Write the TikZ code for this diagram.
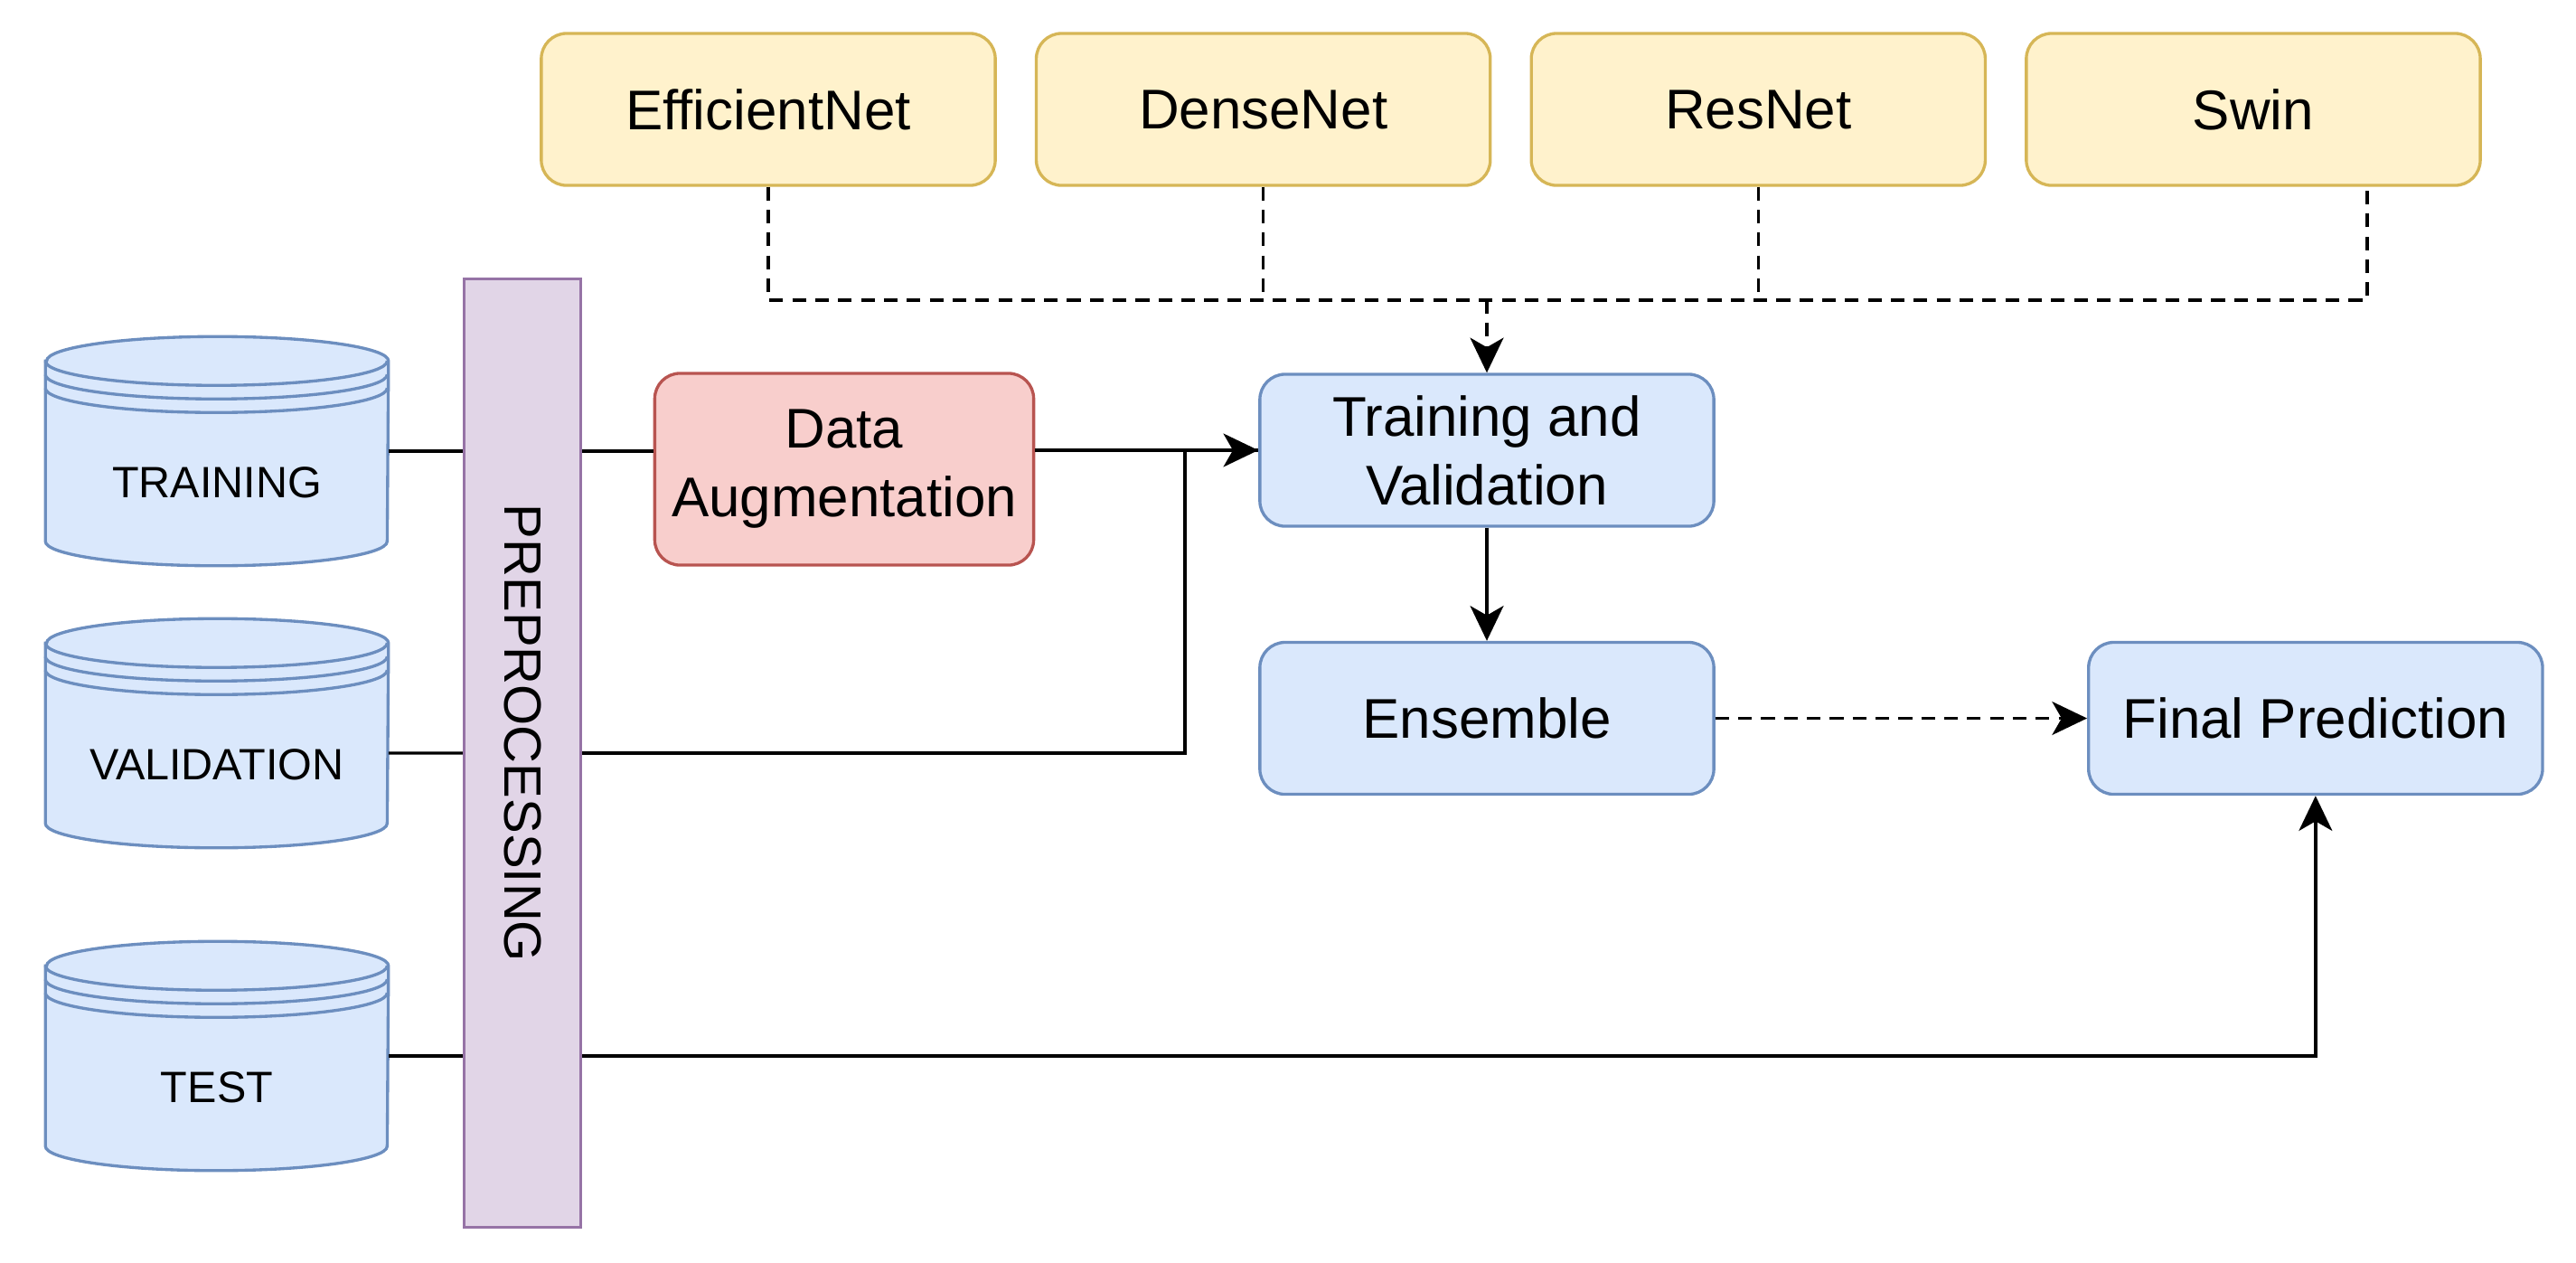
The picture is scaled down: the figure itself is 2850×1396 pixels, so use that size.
\documentclass[tikz,border=0pt]{standalone}
\usepackage{fontspec}
\setmainfont{Liberation Sans}
\usetikzlibrary{arrows.meta,positioning}
\definecolor{lightblue}{HTML}{DAE8FC}
\definecolor{edgeblue}{HTML}{6C8EBF}
\definecolor{lightyellow}{HTML}{FFF2CC}
\definecolor{edgeyellow}{HTML}{D6B656}
\definecolor{lightred}{HTML}{F8CECC}
\definecolor{edgered}{HTML}{B85450}
\definecolor{lightpurple}{HTML}{E1D5E7}
\definecolor{edgepurple}{HTML}{9673A6}
\begin{document}
\begin{tikzpicture}[
  x=0.01cm, y=-0.01cm,
  node distance=0.42cm and 0.42cm,
  box/.style={draw,line width=0.95pt,rounded corners=0.28cm,minimum width=5.02cm,minimum height=1.68cm,align=center,inner sep=0pt,font=\fontsize{17.6pt}{21.6pt}\selectfont},
  model/.style={box,fill=lightyellow,draw=edgeyellow},
  stage/.style={box,fill=lightblue,draw=edgeblue},
  store/.style={minimum width=3.78cm,minimum height=2.52cm,inner sep=0pt},
  storeline/.style={draw=edgeblue,fill=lightblue,line width=0.95pt},
  storetext/.style={font=\fontsize{13.8pt}{16pt}\selectfont},
  line/.style={line width=0.95pt},
  arrow/.style={line,-{Stealth[length=11pt,width=10.5pt,inset=3pt]}},
  dashline/.style={line,dash pattern=on 4.3pt off 2.9pt},
  dasharrow/.style={arrow,dash pattern=on 4.3pt off 2.9pt}
]
\useasboundingbox (0,0) rectangle (2850,1396);
% backbone models
\node[model] (eff) at (850,121) {EfficientNet};
\node[model,right=of eff] (dense) {DenseNet};
\node[model,right=of dense] (res) {ResNet};
\node[model,right=of res] (swin) {Swin};
% pipeline
\node[stage] (tv) at (1645,498) {Training and\\Validation};
\node[stage,below=1.25cm of tv] (ens) {Ensemble};
\node[stage,right=4.11cm of ens] (final) {Final Prediction};
\node[box,fill=lightred,draw=edgered,minimum width=4.19cm,minimum height=2.12cm] (aug) at (934,519) {Data\\Augmentation};
\node[draw=edgepurple,fill=lightpurple,line width=0.95pt,minimum width=1.29cm,minimum height=10.49cm,inner sep=0pt] (prep) at (578,833) {};
\node[rotate=-90,font=\fontsize{16.5pt}{18pt}\selectfont] (prep-txt) at (578,811) {PREPROCESSING};
% data stores
\foreach \n/\y in {train/499,valid/811,test/1168}
  \node[store] (\n) at (240,\y) {};
\foreach \n in {train,valid,test} {
  \path[storeline] ([yshift=-0.27cm]\n.north west) -- ([yshift=0.27cm]\n.south west)
    arc[start angle=180,end angle=360,x radius=1.89cm,y radius=0.27cm]
    -- ([yshift=-0.27cm]\n.north east)
    arc[start angle=0,end angle=180,x radius=1.89cm,y radius=0.27cm] -- cycle;
  \foreach \d in {0,0.15,0.30}
    \draw[storeline,fill=none] ([yshift=-0.27cm-\d cm]\n.north west)
      arc[start angle=180,end angle=360,x radius=1.89cm,y radius=0.27cm];
}
\foreach \n/\t in {train/TRAINING,valid/VALIDATION,test/TEST}
  \node[storetext] (\n-txt) at ([yshift=-0.35cm]\n.center) {\t};
% connectors
\draw[line] (train.east) -- (train.east -| prep.west);
\draw[line] (prep.east |- train.east) -- (aug.west |- train.east);
\draw[arrow] (aug.east |- tv.west) -- (tv.west);
\coordinate (vjoin) at (1311,833);
\draw[line] ([yshift=-0.22cm]valid.east) -- (prep.west |- vjoin);
\draw[line] (prep.east |- vjoin) -- (vjoin) |- (tv.west);
\draw[line] (test.east) -- (test.east -| prep.west);
\draw[arrow] (prep.east |- test.east) -| (final.south);
\draw[arrow] (tv) -- (ens);
\draw[dasharrow] (ens) -- (final);
\coordinate (bus) at (1645,332);
\coordinate (swindrop) at ([xshift=1.26cm]swin.south);
\draw[dashline] (eff.south) |- (swindrop |- bus) -- (swindrop);
\foreach \m in {dense,res}
  \draw[dashline] (\m.south) -- (\m.south |- bus);
\draw[dasharrow] (bus) -- (tv);
\end{tikzpicture}
\end{document}
